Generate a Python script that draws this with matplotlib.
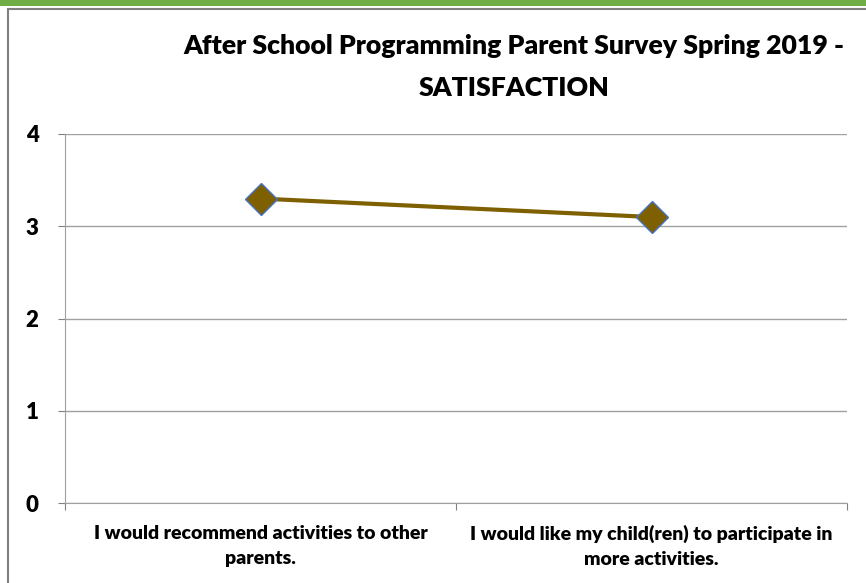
import matplotlib
matplotlib.use("Agg")
import matplotlib.pyplot as plt
from matplotlib.patches import Rectangle

categories = [
    "I would recommend activities to other\nparents.",
    "I would like my child(ren) to participate in\nmore activities.",
]
values = [3.3, 3.1]
y_ticks = [0, 1, 2, 3, 4]
title_lines = ["After School Programming Parent Survey Spring 2019 -", "SATISFACTION"]

W, H = 866, 583
fig = plt.figure(figsize=(W / 100, H / 100), dpi=100)
plt.rcParams["font.family"] = ["Lato", "DejaVu Sans"]

# green banner and outer frame
fig.patches.append(Rectangle((0, 1 - 6 / H), 1, 6 / H, transform=fig.transFigure,
                             facecolor="#70AD47", edgecolor="none"))
fig.patches.append(Rectangle((8 / W, -0.01), 1.0, 1 - 9 / H + 0.01, transform=fig.transFigure,
                             facecolor="none", edgecolor="#808080", linewidth=1.5))

left, right = 65 / W, 847 / W
top, bottom = 1 - 134 / H, 1 - 503 / H
ax = fig.add_axes([left, bottom, right - left, top - bottom])

x = [0.5, 1.5]
ax.plot(x, values, color="#7F6000", linewidth=3, marker="D", markersize=16,
        markerfacecolor="#7F6000", markeredgecolor="#4472C4", markeredgewidth=1, zorder=3)

ax.set_xlim(0, 2)
ax.set_ylim(0, 4)
ax.set_yticks(y_ticks)
ax.set_yticklabels([str(v) for v in y_ticks], fontsize=16, fontweight="heavy")
ax.set_xticks([0, 1, 2])
ax.set_xticklabels([])
ax.set_xticks(x, minor=True)
ax.set_xticklabels(categories, minor=True, fontsize=14, fontweight="heavy", linespacing=1.55)
ax.tick_params(axis="x", which="minor", length=0, pad=16)
ax.tick_params(axis="x", which="major", length=5, color="#808080")
ax.tick_params(axis="y", length=5, color="#808080", pad=14)
ax.grid(axis="y", color="#A0A0A0", linewidth=1)
ax.set_axisbelow(True)
for s in ["top", "right"]:
    ax.spines[s].set_visible(False)
for s in ["left", "bottom"]:
    ax.spines[s].set_color("#A0A0A0")

fig.text(514 / W, 1 - 46 / H, title_lines[0], ha="center", va="center", fontsize=19.2,
         fontweight="heavy")
fig.text(514 / W, 1 - 88 / H, title_lines[1], ha="center", va="center", fontsize=19.2,
         fontweight="heavy")

fig.savefig("out.png", dpi=100)
